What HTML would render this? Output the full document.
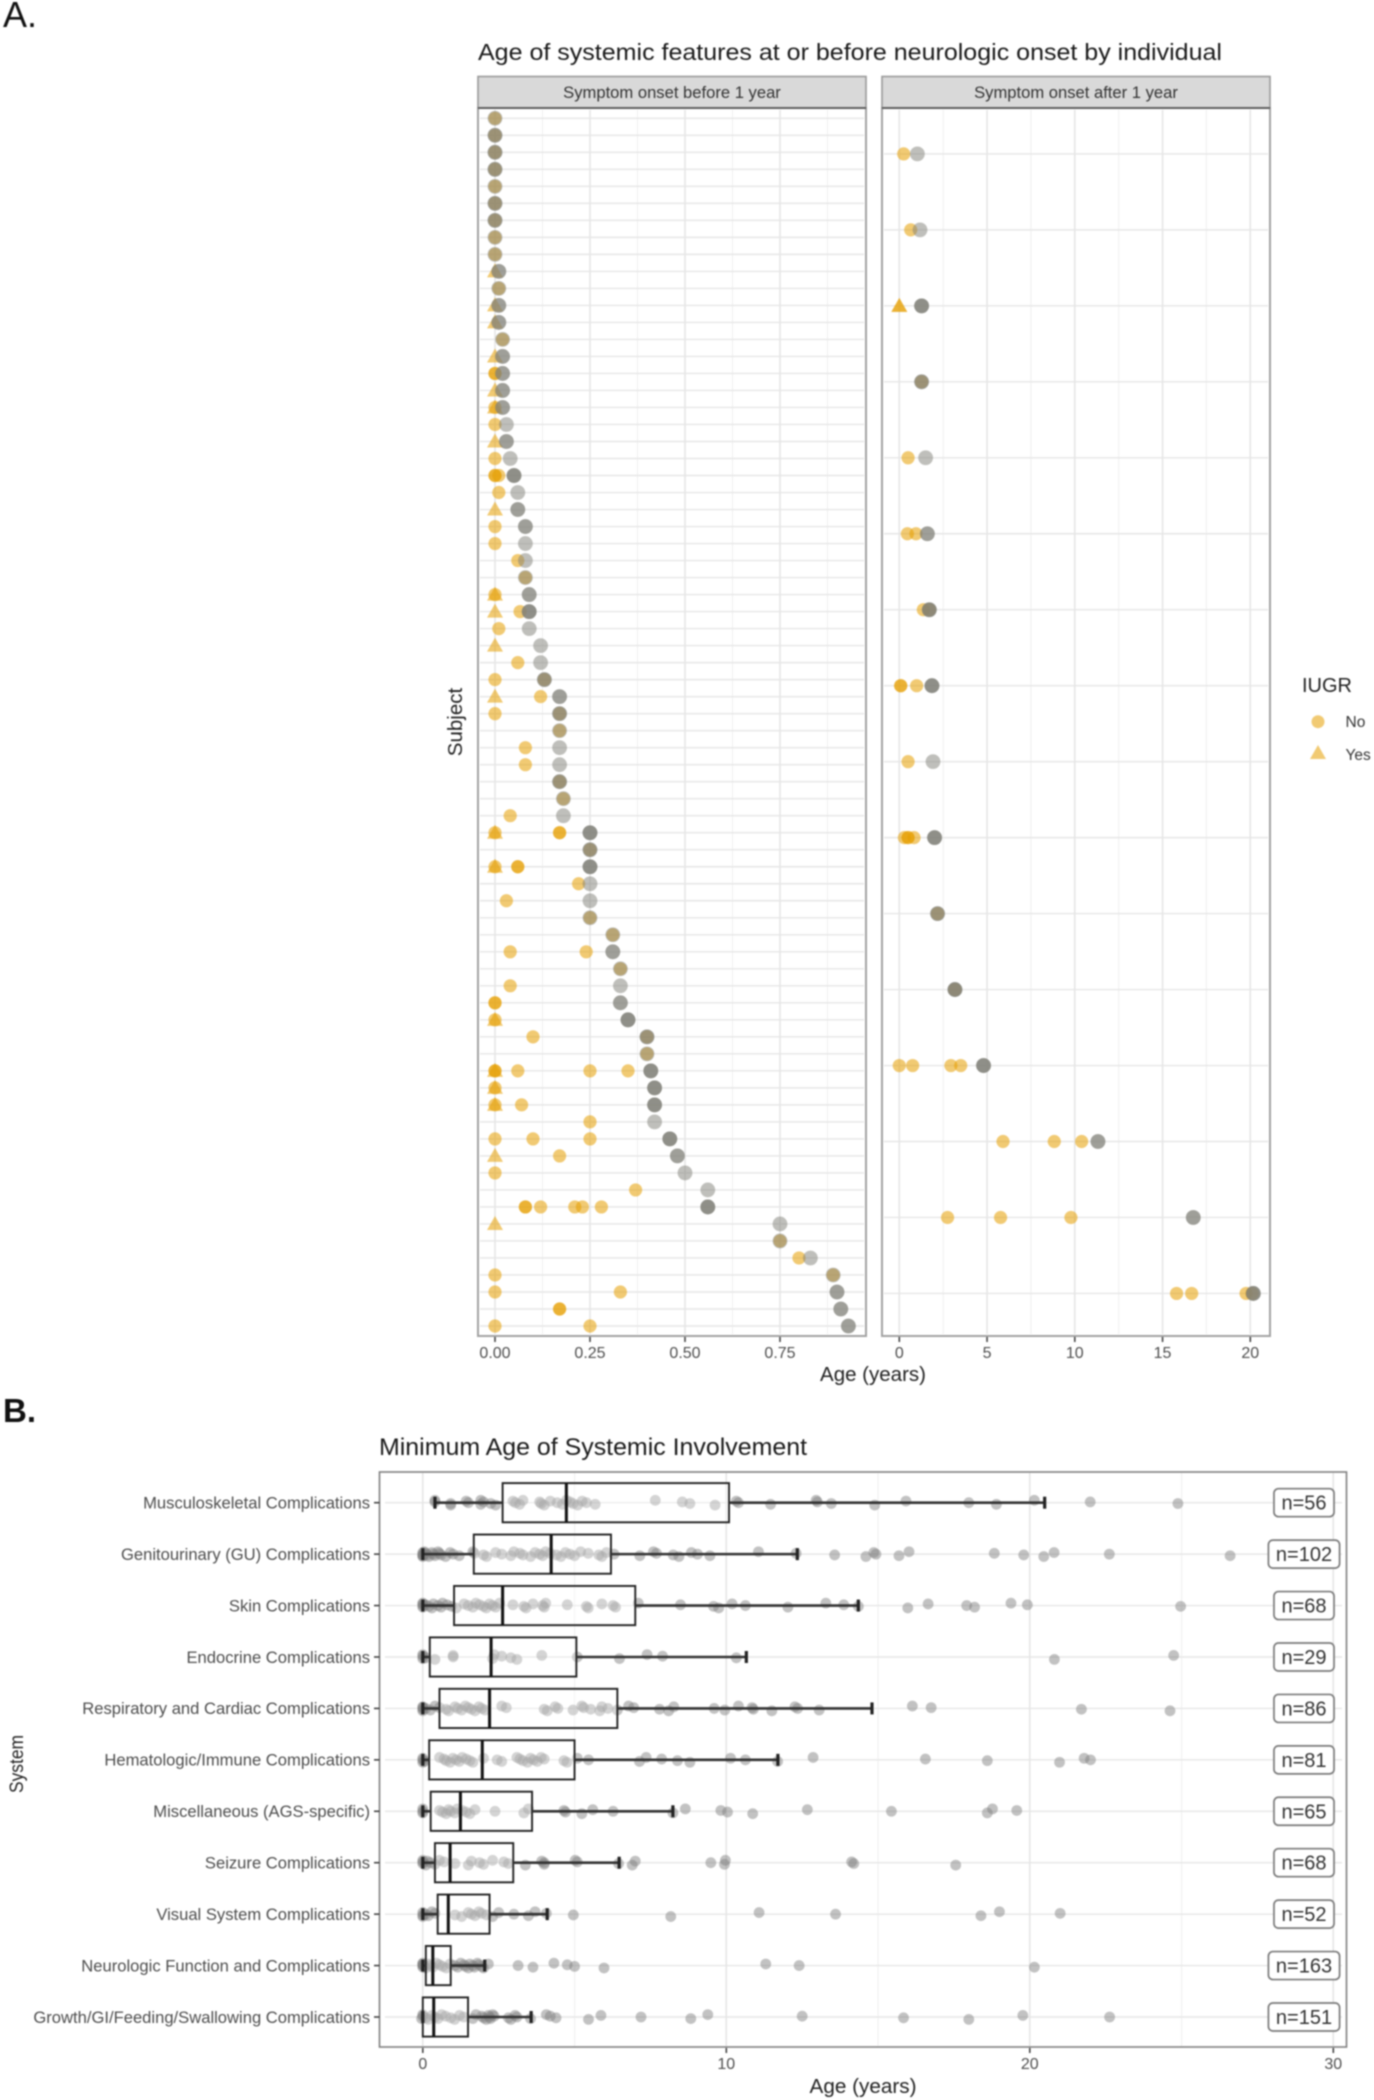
<!DOCTYPE html>
<html lang="en">
<head>
<meta charset="utf-8">
<title>Systemic features and minimum age of systemic involvement</title>
<style>
html,body{margin:0;padding:0;background:#fff;width:1374px;height:2100px;overflow:hidden}
svg{display:block;filter:blur(0.8px);font-family:"Liberation Sans",Arial,sans-serif}
</style>
</head>
<body>
<svg id="figure" xmlns="http://www.w3.org/2000/svg" width="1374" height="2100" viewBox="0 0 1374 2100">
  <rect x="0" y="0" width="1374" height="2100" fill="#fff"/>
  <text x="3" y="27" font-size="36" fill="#111">A.</text>
  <text x="3" y="1422" font-size="33" font-weight="bold" fill="#111">B.</text>

  <text x="478" y="60" font-size="23.5" fill="#1a1a1a" textLength="744" lengthAdjust="spacingAndGlyphs">Age of systemic features at or before neurologic onset by individual</text>
  <g id="gridA"></g>
  <g id="marksA"></g>
  <rect x="478" y="108" width="388" height="1228" fill="none" stroke="#a2a2a2" stroke-width="2"/>
  <rect x="882" y="108" width="388" height="1228" fill="none" stroke="#a2a2a2" stroke-width="2"/>
  <rect x="478" y="76.5" width="388" height="31.5" fill="#d9d9d9" stroke="#999" stroke-width="1.6"/>
  <rect x="882" y="76.5" width="388" height="31.5" fill="#d9d9d9" stroke="#999" stroke-width="1.6"/>
  <line x1="478" x2="866" y1="108" y2="108" stroke="#555" stroke-width="1.8"/>
  <line x1="882" x2="1270" y1="108" y2="108" stroke="#555" stroke-width="1.8"/>
  <text x="672" y="98" text-anchor="middle" font-size="16.6" fill="#333">Symptom onset before 1 year</text>
  <text x="1076" y="98" text-anchor="middle" font-size="16.6" fill="#333">Symptom onset after 1 year</text>
  <g id="axisA"></g>
  <text x="873" y="1381" text-anchor="middle" font-size="20.5" fill="#222">Age (years)</text>
  <text transform="translate(462 722) rotate(-90)" text-anchor="middle" font-size="20.5" fill="#222">Subject</text>

  <g>
    <text x="1302" y="692" font-size="20" fill="#222">IUGR</text>
    <circle cx="1318" cy="721.7" r="6.5" fill="#E69F00" fill-opacity="0.55"/>
    <text x="1345.5" y="727" font-size="15.5" fill="#333">No</text>
    <polygon points="1318,745 1326,759 1310,759" fill="#E69F00" fill-opacity="0.55"/>
    <text x="1345.5" y="760" font-size="15.5" fill="#333">Yes</text>
  </g>

  <text x="379" y="1455" font-size="24" fill="#1a1a1a" textLength="428" lengthAdjust="spacingAndGlyphs">Minimum Age of Systemic Involvement</text>
  <g id="gridB"></g>
  <g id="marksB"></g>
  <rect x="379.5" y="1472" width="967" height="575" fill="none" stroke="#808080" stroke-width="1.6"/>
  <g id="axisB"></g>
  <g id="catsB"></g>
  <g id="countsB"></g>
  <text x="863" y="2093" text-anchor="middle" font-size="20.7" fill="#222">Age (years)</text>
  <text transform="translate(23 1764) rotate(-90)" text-anchor="middle" font-size="19" fill="#222" textLength="58" lengthAdjust="spacingAndGlyphs">System</text>
</svg>

<script>
/* ---------- Chart A data ---------- */
const earlyTicks = [0, 0.25, 0.5, 0.75];
const earlyTickLabels = ['0.00', '0.25', '0.50', '0.75'];
const earlyMinorTicks = [0.125, 0.375, 0.625, 0.875];
const lateTicks = [0, 5, 10, 15, 20];
const lateTickLabels = ['0', '5', '10', '15', '20'];
const lateMinorTicks = [2.5, 7.5, 12.5, 17.5];

const earlyOnset = [0,0,0,0,0,0,0,0,0,.01,.01,.01,.01,.02,.02,.02,.02,.02,.03,.03,.04,.05,.06,.06,.08,.08,.08,.08,.09,.09,.09,.12,.12,.13,.17,.17,.17,.17,.17,.17,.18,.18,.25,.25,.25,.25,.25,.25,.31,.31,.33,.33,.33,.35,.4,.4,.41,.42,.42,.42,.46,.48,.5,.56,.56,.75,.75,.83,.89,.9,.91,.93];
const earlyOnsetCount = [1,2,2,2,1,2,2,1,1,2,1,2,2,1,2,2,2,2,1,2,1,3,1,2,2,1,1,1,2,3,1,1,1,2,2,2,1,1,1,2,1,1,3,2,3,1,1,1,1,2,1,1,2,3,2,1,3,3,3,1,3,2,1,1,3,1,1,1,1,2,2,2];
const earlyNo = [[0],[0],[0],[0],[0],[0],[0],[0],[0],[],[.01],[],[],[.02],[],[0,0],[],[0],[0],[],[0],[0,.01,0],[.01],[],[0],[0],[.06],[.08],[0],[.066],[.01],[],[.06],[0,.13],[.12],[0,.17],[.17],[.08],[.08],[.17],[.18],[.04],[0,.17,.17],[.25],[0,.06,.06],[.22],[.03],[.25],[.31],[.04,.24],[.33],[.04],[0,0],[0],[.1,.4],[.4],[0,0,.06,.25,.35],[0],[0,.07],[.25],[0,.1,.25],[.17],[0],[.37],[.08,.08,.12,.21,.23,.28],[],[.75],[.8],[0,.89],[0,.33],[.17,.17],[0,.25]];
const earlyYes = [[],[],[],[],[],[],[],[],[],[0],[],[0],[0],[],[0],[],[0],[0],[],[0],[],[],[],[0],[],[],[],[],[0],[0],[],[0],[],[],[0],[],[],[],[],[],[],[],[0],[],[0],[],[],[],[],[],[],[],[],[0],[],[],[0],[0],[0],[],[],[0],[],[],[],[0],[],[],[],[],[],[]];

const lateOnset = [1.03,1.18,1.27,1.27,1.5,1.6,1.71,1.86,1.92,2.01,2.18,3.17,4.8,11.32,16.75,20.17];
const lateOnsetCount = [1,1,3,2,1,2,3,3,1,3,2,3,3,2,2,3];
const lateNo = [[.25],[.65],[],[1.27],[.5],[.46,.95],[1.37,1.71],[.08,.08,.99],[.5],[.29,.5,.5,.84],[2.18],[3.17],[0,.76,2.94,3.5],[5.91,8.83,10.39],[2.75,5.77,9.78],[15.8,16.66,19.76,20.1]];
const lateYes = [[],[],[0,0],[],[],[],[],[],[],[],[],[],[],[],[],[]];

/* ---------- Chart B data ---------- */
const boxTicks = [0, 10, 20, 30];
const boxTickLabels = ['0', '10', '20', '30'];
const boxMinorTicks = [5, 15, 25];
const categories = ['Musculoskeletal Complications','Genitourinary (GU) Complications','Skin Complications','Endocrine Complications','Respiratory and Cardiac Complications','Hematologic/Immune Complications','Miscellaneous (AGS-specific)','Seizure Complications','Visual System Complications','Neurologic Function and Complications','Growth/GI/Feeding/Swallowing Complications'];
const sampleSizes = [56, 102, 68, 29, 86, 81, 65, 68, 52, 163, 151];
const whiskerLow = [.4, 0, 0, 0, 0, 0, 0, 0, 0, 0, 0];
const quartile1 = [2.63, 1.68, 1.03, .23, .55, .21, .26, .4, .49, .1, 0];
const medians = [4.73, 4.23, 2.63, 2.25, 2.2, 1.96, 1.24, .9, .84, .33, .36];
const quartile3 = [10.09, 6.2, 7.0, 5.06, 6.41, 5.0, 3.6, 2.98, 2.2, .92, 1.49];
const whiskerHigh = [20.49, 12.34, 14.35, 10.66, 14.8, 11.7, 8.24, 6.47, 4.1, 2.04, 3.57];
const systemAges = [
 [.4,.4,.92,.92,1.43,1.5,1.91,1.91,2,2.24,2.4,2.97,3.05,3.19,3.3,3.85,3.9,4,4.2,4.43,4.6,4.73,4.85,4.95,5.1,5.25,5.39,5.68,7.66,8.55,8.8,9.63,10.33,10.4,11.46,12.96,13,13.46,14.89,15.92,17.99,18.9,20.15,21.99,24.88],
 [0,0,0,0,0,.05,.1,.15,.2,.3,.35,.4,.5,.55,.6,.75,.9,1,1.2,1.65,1.7,2,2.1,2.4,2.6,2.9,3.0,3.2,3.3,3.55,3.7,3.85,3.95,4.05,4.2,4.4,4.55,4.7,4.85,5,5.2,5.45,5.8,5.9,6.05,6.3,7.15,7.6,7.7,8.25,8.44,8.85,9.05,9.46,11.06,12.3,13.57,14.6,14.86,14.93,15.69,16.02,18.83,19.8,20.46,20.8,22.62,26.6],
 [0,0,0,0,.1,.2,.3,.35,.5,.6,.65,.8,.95,1.1,1.36,1.5,1.65,1.75,1.87,2.0,2.09,2.2,2.3,2.4,2.53,2.97,3.33,3.4,3.63,3.95,4,4.05,4.76,5.39,5.45,5.9,6.27,6.35,7.1,8.49,9.58,9.75,10.19,10.63,12.03,13.28,13.87,14.35,15.98,16.65,17.92,18.18,19.38,19.92,24.97],
 [0,0,0,.1,.4,1,1,2.3,2.35,2.6,2.9,3.1,3.92,5.09,6.48,7.39,7.9,10.33,20.81,24.74],
 [0,0,0,0,.1,.25,.4,.55,.77,.85,1.06,1.15,1.28,1.4,1.5,1.6,1.72,1.85,1.94,2.05,2.6,2.75,4,4.1,4.36,4.45,4.95,5.24,5.3,5.53,5.83,5.9,6.1,6.41,6.78,6.95,7.8,8.1,8.27,9.6,9.95,10.4,10.85,10.89,11.5,12.26,12.35,13.06,16.13,16.75,21.7,24.62],
 [0,0,0,.05,.55,.7,.77,.9,.99,1.1,1.2,1.3,1.43,1.55,1.65,2,2.45,2.6,3.1,3.2,3.3,3.45,3.55,3.65,3.77,3.9,4,4.65,4.75,5.09,5.46,7.14,7.36,7.87,8.39,8.8,10.14,10.63,11.69,12.86,16.56,18.6,20.98,21.79,22],
 [0,0,0,.55,.65,.77,.85,.92,1.05,1.14,1.3,1.43,1.55,1.72,2.38,3.33,3.48,4.65,4.7,5.24,5.6,6.27,8.24,8.65,9.82,10.04,10.87,12.67,15.44,18.6,18.77,19.57],
 [0,0,0,.1,.15,.25,.4,.55,.7,1.06,1.5,1.6,1.87,2,2.3,2.67,2.82,3.38,3.92,4,4,5.02,5.09,6.45,6.9,7,9.49,9.94,9.97,14.13,14.2,17.56],
 [0,0,0,.1,.18,.3,.4,1.06,1.28,1.5,1.6,1.72,1.85,1.94,2.1,2.3,2.5,3,3.48,3.7,4.07,4.96,8.17,11.08,13.6,18.39,19,21],
 [0,0,0,0,0,.05,.1,.18,.25,.33,.45,.55,.65,.77,.9,1.06,1.15,1.25,1.36,1.4,1.5,1.55,1.65,1.7,1.8,1.85,1.94,2,2.16,3.14,3.63,4.32,4.76,5,5.97,11.3,12.4,20.15],
 [-.04,0,0,.1,.18,.3,.4,.5,.62,.75,.92,1.05,1.21,1.35,1.65,1.75,1.94,2,2.09,2.16,2.2,2.23,2.3,2.35,2.82,2.9,3.04,3.1,3.55,4.07,4.2,4.39,5.46,5.87,7.19,8.83,9.39,12.5,15.84,17.99,19.77,22.63]
];

/* ---------- Axis functions ---------- */
function xEarly(v) { return 495 + 380 * v; }
function yEarly(i) { return 118.3 + 17.01 * i; }
function xLate(v) { return 899.3 + 17.55 * v; }
function yLate(i) { return 153.9 + 75.97 * i; }
function xBox(v) { return 422.8 + 30.35 * v; }
function yBox(i) { return 1502.7 + 51.43 * i; }

const NS = 'http://www.w3.org/2000/svg';
function make(parent, tag, attrs) {
  const el = document.createElementNS(NS, tag);
  for (const k in attrs) el.setAttribute(k, attrs[k]);
  parent.appendChild(el);
  return el;
}
const gridA = document.getElementById('gridA');
const marksA = document.getElementById('marksA');
const axisA = document.getElementById('axisA');
const gridB = document.getElementById('gridB');
const marksB = document.getElementById('marksB');
const axisB = document.getElementById('axisB');
const catsB = document.getElementById('catsB');
const countsB = document.getElementById('countsB');

function vGrid(parent, x, y1, y2, major) {
  const el = make(parent, 'line', {x1: x, x2: x, y1: y1, y2: y2, stroke: major ? '#e4e4e4' : '#f0f0f0', 'stroke-width': major ? 1.5 : 1.1});
  
  
}
function hGrid(parent, y, x1, x2) {
  const el = make(parent, 'line', {x1: x1, x2: x2, y1: y, y2: y, stroke: '#e6e6e6', 'stroke-width': 1.4});
  
  
}
function xTick(parent, x, y0, label, baseline, size) {
  const tick = make(parent, 'line', {x1: x, x2: x, y1: y0, y2: y0 + 5, stroke: '#444', 'stroke-width': 1.6});
  
  
  const txt = make(parent, 'text', {x: x, y: baseline, 'text-anchor': 'middle', 'font-size': size, fill: '#4d4d4d'});
  txt.textContent = label;
  
  
}
function yellowCircle(parent, cx, cy) {
  const el = make(parent, 'circle', {cx: cx, cy: cy, r: 6.6, fill: '#E69F00', 'fill-opacity': 0.55});
  
  
}
function yellowTriangle(parent, cx, cy) {
  const pts = [cx, cy - 8, cx + 8, cy + 6, cx - 8, cy + 6].join(' ');
  const el = make(parent, 'polygon', {points: pts, fill: '#E69F00', 'fill-opacity': 0.55});
  
  
}
function onsetPoint(parent, cx, cy, count) {
  for (let c = 0; c < count; c++) {
    const el = make(parent, 'circle', {cx: cx, cy: cy, r: 7.4, fill: '#808078', 'fill-opacity': 0.5});
    
    
  }
}

/* ---------- Chart A draw ---------- */
earlyMinorTicks.forEach(function (v) { vGrid(gridA, xEarly(v), 110, 1334, false); });
earlyTicks.forEach(function (v) { vGrid(gridA, xEarly(v), 110, 1334, true); });
lateMinorTicks.forEach(function (v) { vGrid(gridA, xLate(v), 110, 1334, false); });
lateTicks.forEach(function (v) { vGrid(gridA, xLate(v), 110, 1334, true); });
earlyOnset.forEach(function (v, i) { hGrid(gridA, yEarly(i), 480, 864); });
lateOnset.forEach(function (v, i) { hGrid(gridA, yLate(i), 884, 1268); });

earlyOnset.forEach(function (v, i) {
  earlyYes[i].forEach(function (a) { yellowTriangle(marksA, xEarly(a), yEarly(i)); });
  earlyNo[i].forEach(function (a) { yellowCircle(marksA, xEarly(a), yEarly(i)); });
  onsetPoint(marksA, xEarly(v), yEarly(i), earlyOnsetCount[i]);
});
lateOnset.forEach(function (v, i) {
  lateYes[i].forEach(function (a) { yellowTriangle(marksA, xLate(a), yLate(i)); });
  lateNo[i].forEach(function (a) { yellowCircle(marksA, xLate(a), yLate(i)); });
  onsetPoint(marksA, xLate(v), yLate(i), lateOnsetCount[i]);
});
earlyTicks.forEach(function (v, i) { xTick(axisA, xEarly(v), 1337, earlyTickLabels[i], 1358, 16); });
lateTicks.forEach(function (v, i) { xTick(axisA, xLate(v), 1337, lateTickLabels[i], 1358, 16); });

/* ---------- Chart B draw ---------- */
boxMinorTicks.forEach(function (v) { vGrid(gridB, xBox(v), 1473, 2046, false); });
boxTicks.forEach(function (v) { vGrid(gridB, xBox(v), 1473, 2046, true); });

categories.forEach(function (name, i) {
  const y = yBox(i);
  hGrid(gridB, y, 385, 1342);

  systemAges[i].forEach(function (a, k) {
    const jitter = ((k * 37 + i * 11) % 7 - 3) * 0.8;
    const dot = make(marksB, 'circle', {cx: xBox(a), cy: y + jitter, r: 5.4, fill: '#7f7f7f', 'fill-opacity': 0.48});
    
    
  });

  const box = make(marksB, 'rect', {x: xBox(quartile1[i]), y: y - 19.6, width: xBox(quartile3[i]) - xBox(quartile1[i]), height: 39.2, fill: '#fff', 'fill-opacity': 0.3, stroke: '#222', 'stroke-width': 1.9});
  
  

  const med = make(marksB, 'line', {x1: xBox(medians[i]), x2: xBox(medians[i]), y1: y - 19.6, y2: y + 19.6, stroke: '#111', 'stroke-width': 3});
  
  

  const wl = make(marksB, 'line', {x1: xBox(whiskerLow[i]), x2: xBox(quartile1[i]), y1: y, y2: y, stroke: '#333', 'stroke-width': 2.6});
  
  

  const wh = make(marksB, 'line', {x1: xBox(quartile3[i]), x2: xBox(whiskerHigh[i]), y1: y, y2: y, stroke: '#333', 'stroke-width': 2.6});
  
  

  const cl = make(marksB, 'line', {x1: xBox(whiskerLow[i]), x2: xBox(whiskerLow[i]), y1: y - 6, y2: y + 6, stroke: '#222', 'stroke-width': 3.2});
  
  

  const ch = make(marksB, 'line', {x1: xBox(whiskerHigh[i]), x2: xBox(whiskerHigh[i]), y1: y - 6, y2: y + 6, stroke: '#222', 'stroke-width': 3.2});
  
  

  const tick = make(catsB, 'line', {x1: 374, x2: 379.5, y1: y, y2: y, stroke: '#444', 'stroke-width': 1.6});
  
  

  const lab = make(catsB, 'text', {x: 370, y: y + 5.8, 'text-anchor': 'end', 'font-size': 16.6, fill: '#4d4d4d'});
  lab.textContent = name;
  
  

  const tag = make(countsB, 'rect', {x: 1274, y: y - 14, width: 61, height: 28, rx: 4.5, fill: '#fff', stroke: '#7a7a7a', 'stroke-width': 1.7});
  
  

  const txt = make(countsB, 'text', {x: 1304, y: y + 7, 'text-anchor': 'middle', 'font-size': 20, fill: '#333'});
  txt.textContent = 'n=' + sampleSizes[i];
  
  

  const w = txt.getComputedTextLength() + 15;
  tag.setAttribute('x', 1304 - w / 2);
  tag.setAttribute('width', w);
});
boxTicks.forEach(function (v, i) { xTick(axisB, xBox(v), 2048, boxTickLabels[i], 2069, 16); });
</script>
</body>
</html>
